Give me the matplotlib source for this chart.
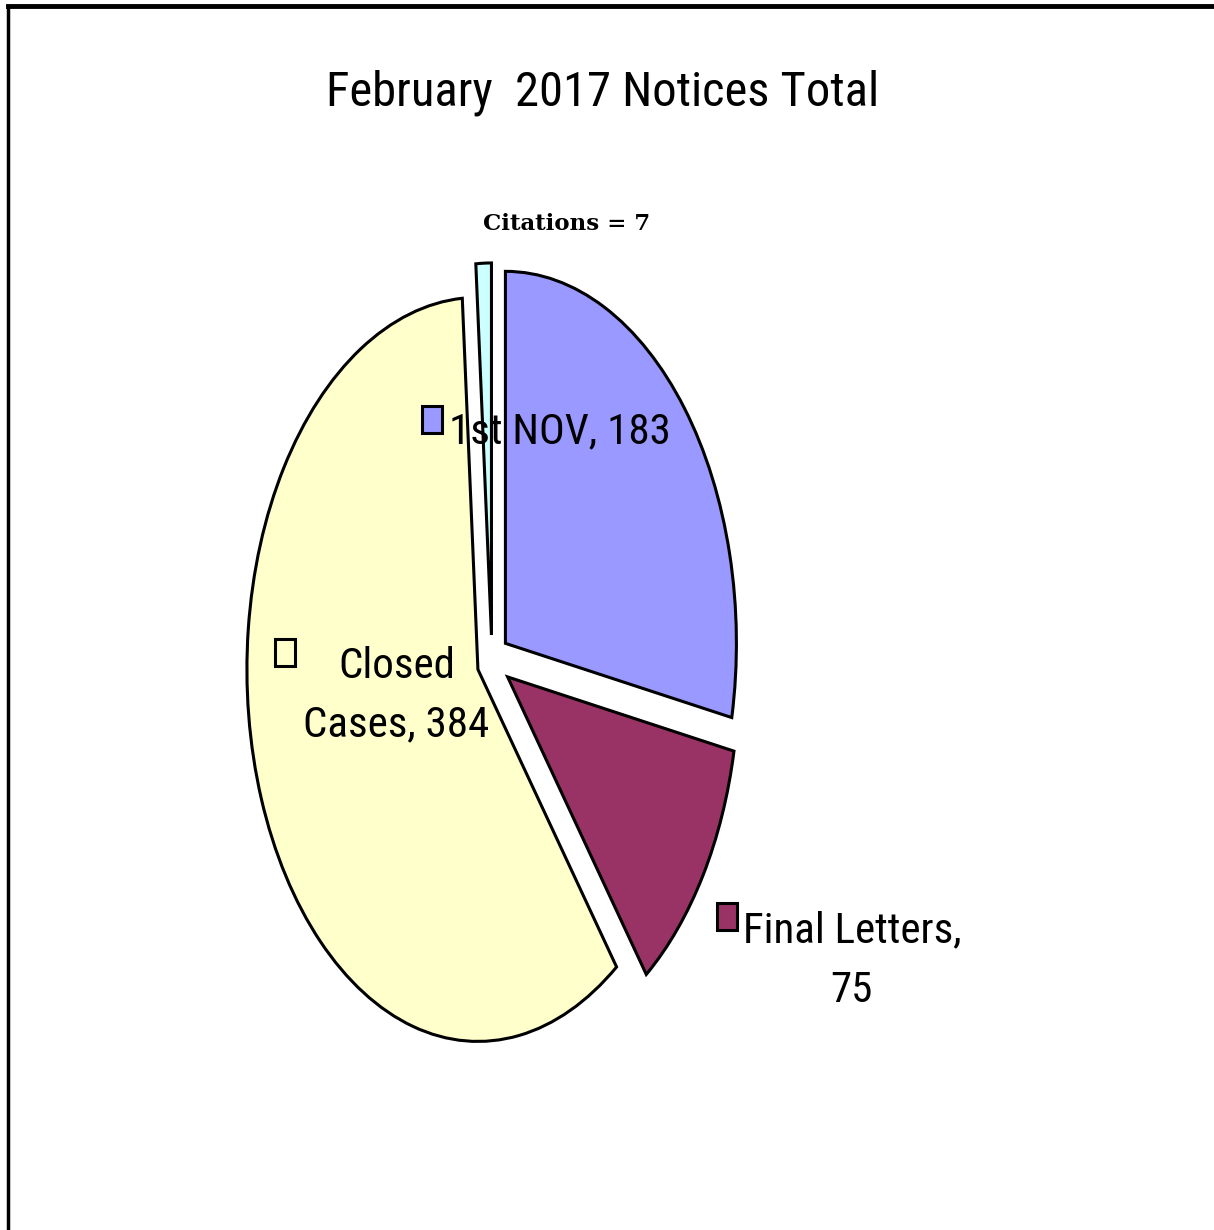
import matplotlib
matplotlib.use('Agg')
import matplotlib.pyplot as plt
from matplotlib.patches import Rectangle
from matplotlib.lines import Line2D

# data
labels = ['1st NOV', 'Final Letters', 'Closed Cases', 'Citations']
values = [183, 75, 384, 7]
colors = ['#9999FF', '#993366', '#FFFFCC', '#CCFFFF']
explode = [0.075, 0.08, 0.065, 0.07]

W, H = 1214, 1230
CX, CY = 492, 661      # pie centre in pixels (from top)
RX, RY = 231, 372      # ellipse radii in pixels

NARROW = ['Roboto Condensed', 'Liberation Sans Narrow', 'DejaVu Sans']
LBL_FS = 31

fig = plt.figure(figsize=(W / 100, H / 100), dpi=100, facecolor='white')
ax = fig.add_axes([0, 0, 1, 1])
ax.pie(values, colors=colors, explode=explode, startangle=90, counterclock=False,
       wedgeprops=dict(edgecolor='black', linewidth=2.2))
ax.set_aspect('auto')
ax.set_xlim(-CX / RX, (W - CX) / RX)
ax.set_ylim(-(H - CY) / RY, CY / RY)
ax.axis('off')


def px(x, y):
    return x / W, 1 - y / H


def key(x, y, color):
    # legend key square (stretched like the pie), x/y = top-left in pixels
    fig.add_artist(Rectangle(px(x, y + 27), 20 / W, 27 / H, transform=fig.transFigure,
                             facecolor=color, edgecolor='black', linewidth=2.2))


def label(x, y, s):
    # x = centre, y = baseline, in pixels
    fig.text(*px(x, y), s, ha='center', va='baseline', fontsize=LBL_FS, family=NARROW)


# title
fig.text(*px(603, 105), 'February  2017 Notices Total', ha='center', va='baseline',
         fontsize=35, family=NARROW)

fig.text(*px(567, 224), 'Citations = 7', ha='center', va='center',
         fontsize=16.5, fontweight='bold', family=['DejaVu Serif'])

# data labels
key(422, 406, colors[0])
label(560, 443, f'{labels[0]}, {values[0]}')

key(275, 639, colors[2])
label(397, 678, 'Closed')
label(396, 736, f'Cases, {values[2]}')

key(717, 903, colors[1])
label(852, 942, 'Final Letters,')
label(851, 1002, f'{values[1]}')

# outer frame (cut off at right/bottom)
fig.add_artist(Line2D([8 / W, 1.01], [1 - 6 / H, 1 - 6 / H], transform=fig.transFigure,
                      color='black', linewidth=3.5))
fig.add_artist(Line2D([8 / W, 8 / W], [-0.01, 1 - 6 / H], transform=fig.transFigure,
                      color='black', linewidth=2.5))

fig.savefig('out.png', dpi=100, facecolor='white')
